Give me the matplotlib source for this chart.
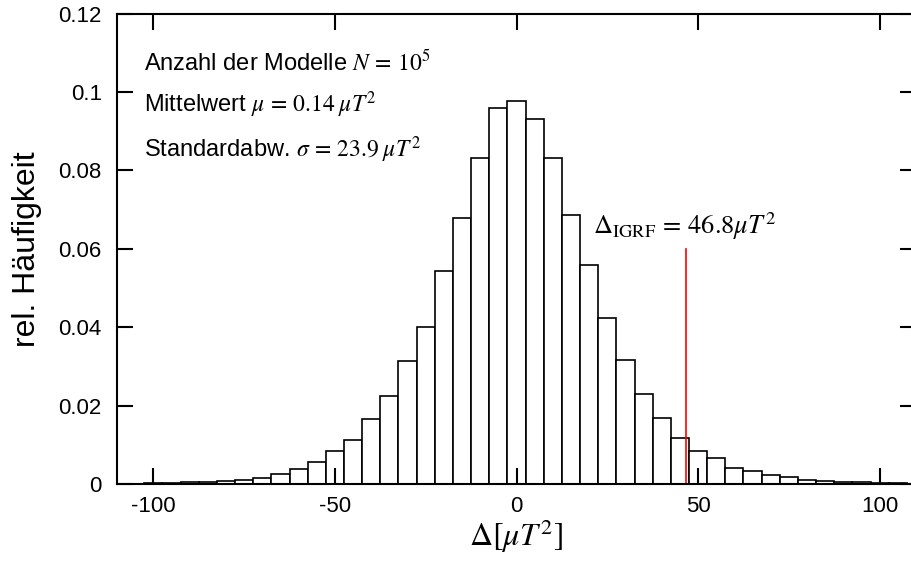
import matplotlib
matplotlib.use("Agg")
import matplotlib.pyplot as plt
import numpy as np

plt.rcParams['font.family'] = ['Liberation Sans', 'DejaVu Sans']
plt.rcParams['mathtext.fontset'] = 'stix'
plt.rcParams['axes.unicode_minus'] = False

bin_centers = list(range(-105, 110, 5))
rel_freq = [0.0001, 0.0002, 0.0003, 0.0004, 0.0006, 0.0008, 0.0011, 0.0016,
            0.0026, 0.0037, 0.0055, 0.0083, 0.0112, 0.0167, 0.0225, 0.0314,
            0.0400, 0.0543, 0.0679, 0.0832, 0.0959, 0.0977, 0.0931, 0.0832,
            0.0685, 0.0559, 0.0423, 0.0315, 0.0230, 0.0169, 0.0117, 0.0085,
            0.0066, 0.0040, 0.0033, 0.0022, 0.0017, 0.0011, 0.0008, 0.0006,
            0.0005, 0.0003, 0.0002]
bin_width = 5
igrf_value = 46.8
igrf_line_top = 0.06
x_ticks = [-100, -50, 0, 50, 100]
y_ticks = [0, 0.02, 0.04, 0.06, 0.08, 0.1, 0.12]
y_tick_labels = ["0", "0.02", "0.04", "0.06", "0.08", "0.1", "0.12"]

fig = plt.figure(figsize=(9.11, 5.72), dpi=100)
ax = fig.add_axes([117/911, 1 - 484/572, (916-117)/911, (484-13.5)/572])

ax.bar(bin_centers, rel_freq, width=bin_width, facecolor='white',
       edgecolor='black', linewidth=1.2, align='center')
ax.plot([igrf_value, igrf_value], [0, igrf_line_top], color='red', lw=1.2)

ax.set_xlim(-110, 110)
ax.set_ylim(0, 0.12)
ax.set_xticks(x_ticks)
ax.set_xticklabels([str(v) for v in x_ticks])
ax.set_yticks(y_ticks)
ax.set_yticklabels(y_tick_labels)
ax.tick_params(direction='in', length=11.5, width=1.5, top=True, right=True,
               labelsize=16, pad=9)
ax.tick_params(axis='y', pad=11)
for s in ax.spines.values():
    s.set_linewidth(1.5)

ax.set_ylabel('rel. Häufigkeit', fontsize=23, labelpad=12)
ax.set_xlabel(r'$\Delta[\mu T^2]$', fontsize=23, labelpad=0)

ax.text(-102.6, 0.1056, r'Anzahl der Modelle $N\,=\,10^5$', fontsize=17, va='baseline')
ax.text(-102.6, 0.0949, r'Mittelwert $\mu\,=\,0.14\;\mu T^2$', fontsize=17, va='baseline')
ax.text(-102.6, 0.0834, r'Standardabw. $\sigma\,=\,23.9\;\mu T^2$', fontsize=17, va='baseline')
ax.text(21.2, 0.0639, r'$\Delta_{\mathrm{IGRF}}\,=\,46.8\mu T^2$', fontsize=19, va='baseline')

fig.savefig('out.png', dpi=100)
